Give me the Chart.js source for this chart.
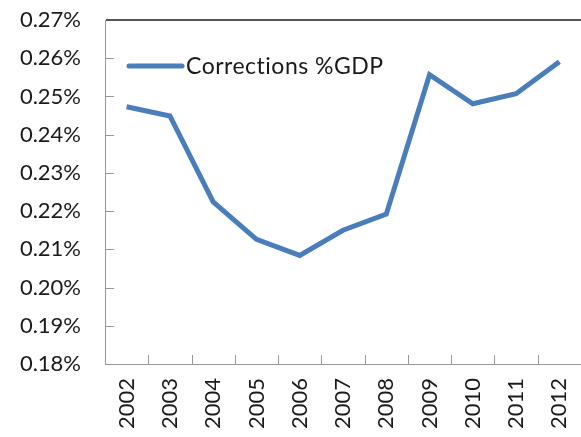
<!DOCTYPE html>
<html>
<head>
<meta charset="utf-8">
<script src="https://cdn.jsdelivr.net/npm/chart.js@4/dist/chart.umd.min.js"></script>
<style>
  html, body { margin: 0; padding: 0; background: #fff; }
</style>
</head>
<body>
<canvas id="chart" width="581" height="437"></canvas>
<script>
// data
var years = ['2002', '2003', '2004', '2005', '2006', '2007', '2008', '2009', '2010', '2011', '2012'];
var correctionsGdp = [0.2473, 0.2449, 0.2224, 0.2126, 0.2084, 0.2150, 0.2192, 0.2557, 0.2481, 0.2507, 0.2591];
var yTicks = [0.18, 0.19, 0.20, 0.21, 0.22, 0.23, 0.24, 0.25, 0.26, 0.27];

var lineBlue = '#4a7ebb';
var fontFam = 'Lato, "Open Sans", sans-serif';

// inner tick marks, top border line and legend inside the plot
var extras = {
    id: 'extras',
    afterDraw: function(chart) {
        var ctx = chart.ctx;
        var x = chart.scales.x, y = chart.scales.y;
        var area = chart.chartArea;
        ctx.save();
        ctx.strokeStyle = '#999';
        ctx.lineWidth = 1;
        yTicks.forEach(function(v) {
            if (v === 0.18 || v === 0.27) return;
            var py = Math.round(y.getPixelForValue(v)) + 0.5;
            ctx.beginPath();
            ctx.moveTo(area.left, py);
            ctx.lineTo(area.left + 9, py);
            ctx.stroke();
        });
        for (var i = 1; i < years.length; i++) {
            var px = Math.round((x.getPixelForValue(i - 1) + x.getPixelForValue(i)) / 2) + 0.5;
            ctx.beginPath();
            ctx.moveTo(px, area.bottom);
            ctx.lineTo(px, area.bottom - 9);
            ctx.stroke();
        }
        // top line at 0.27%
        var topY = Math.round(y.getPixelForValue(0.27));
        ctx.strokeStyle = '#555';
        ctx.lineWidth = 2;
        ctx.beginPath();
        ctx.moveTo(area.left + 1, topY);
        ctx.lineTo(area.right, topY);
        ctx.stroke();
        // legend
        ctx.strokeStyle = lineBlue;
        ctx.lineWidth = 5;
        ctx.lineCap = 'round';
        ctx.beginPath();
        ctx.moveTo(129, 66);
        ctx.lineTo(182, 66);
        ctx.stroke();
        ctx.fillStyle = '#1a1a1a';
        ctx.font = '23px ' + fontFam;
        ctx.letterSpacing = '0.5px';
        ctx.textBaseline = 'middle';
        ctx.fillText(chart.data.datasets[0].label, 186, 67);
        ctx.restore();
    }
};

var chart = new Chart(document.getElementById('chart'), {
    type: 'line',
    data: {
        labels: years,
        datasets: [{
            label: 'Corrections %GDP',
            data: correctionsGdp,
            borderColor: lineBlue,
            borderWidth: 5,
            pointRadius: 0,
            tension: 0,
            fill: false
        }]
    },
    options: {
        responsive: false,
        animation: false,
        layout: { padding: { top: 20, right: 0, left: 0, bottom: 0 } },
        plugins: { legend: { display: false }, tooltip: { enabled: false } },
        scales: {
            x: {
                offset: true,
                afterFit: function(s) { s.height = 73; s.paddingLeft = 0; s.paddingRight = 0; },
                grid: { display: false, drawTicks: false },
                border: { color: '#999', width: 1 },
                ticks: {
                    minRotation: 90, maxRotation: 90,
                    padding: 14,
                    color: '#1a1a1a',
                    font: { size: 22, family: fontFam }
                }
            },
            y: {
                min: 0.18, max: 0.27,
                afterFit: function(s) { s.width = 105; s.paddingTop = 0; s.paddingBottom = 0; },
                afterBuildTicks: function(s) { s.ticks = yTicks.map(function(v) { return { value: v }; }); },
                grid: { display: false, drawTicks: false },
                border: { color: '#999', width: 1 },
                ticks: {
                    padding: 24,
                    color: '#1a1a1a',
                    font: { size: 22, family: fontFam },
                    callback: function(v) { return v.toFixed(2) + '%'; }
                }
            }
        }
    },
    plugins: [extras]
});
</script>
</body>
</html>
